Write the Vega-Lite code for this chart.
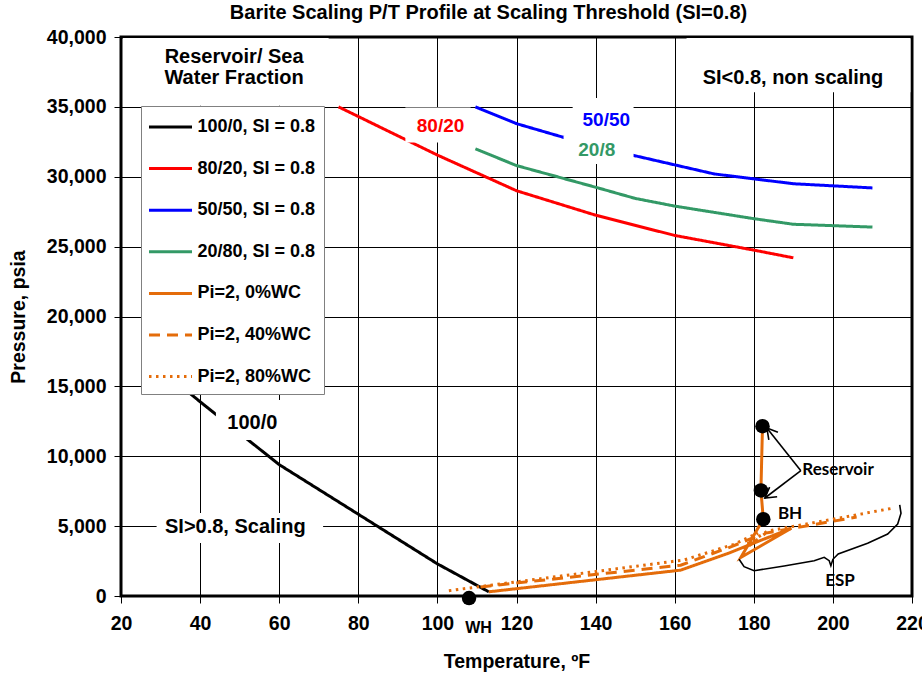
{
  "$schema": "https://vega.github.io/schema/vega-lite/v6.json",
  "width": 791,
  "height": 559,
  "autosize": "none",
  "padding": {"left": 121, "top": 37, "right": 10, "bottom": 82},
  "background": "white",
  "title": {
    "text": "Barite Scaling P/T Profile at Scaling Threshold (SI=0.8)",
    "font": "Liberation Sans",
    "fontSize": 20,
    "fontWeight": "bold",
    "color": "black",
    "anchor": "middle",
    "frame": "group",
    "baseline": "alphabetic",
    "offset": 8,
    "dx": -28,
    "dy": 20
  },
  "config": {
    "view": {"stroke": "black", "strokeWidth": 3},
    "axis": {
      "labelFont": "Liberation Sans",
      "labelFontWeight": "bold",
      "labelFontSize": 19.5,
      "labelColor": "black",
      "titleFont": "Liberation Sans",
      "titleFontWeight": "bold",
      "titleFontSize": 19.5,
      "titleColor": "black",
      "tickColor": "black",
      "tickSize": 7,
      "tickWidth": 1,
      "gridColor": "black",
      "gridWidth": 1,
      "gridOpacity": 1,
      "domain": false,
      "labelFlush": false,
      "labelOverlap": false
    },
    "legend": {
      "orient": "none",
      "legendX": 20,
      "legendY": 69,
      "direction": "vertical",
      "symbolType": "M-1.87,0H1.87",
      "symbolSize": 529,
      "symbolStrokeWidth": 3,
      "symbolOffset": 8.5,
      "labelFont": "Liberation Sans",
      "labelFontWeight": "bold",
      "labelFontSize": 18,
      "labelColor": "black",
      "labelOffset": 14,
      "labelLimit": 300,
      "padding": 8,
      "rowPadding": 19.6,
      "strokeColor": "#808080",
      "fillColor": "white"
    }
  },
  "datasets": {
    "curves": [
      {"series": "100/0, SI = 0.8", "seq": 1, "t": 37, "p": 14600},
      {"series": "100/0, SI = 0.8", "seq": 2, "t": 40, "p": 13900},
      {"series": "100/0, SI = 0.8", "seq": 3, "t": 60, "p": 9400},
      {"series": "100/0, SI = 0.8", "seq": 4, "t": 80, "p": 5850},
      {"series": "100/0, SI = 0.8", "seq": 5, "t": 100, "p": 2300},
      {"series": "100/0, SI = 0.8", "seq": 6, "t": 113, "p": 300},
      {"series": "80/20, SI = 0.8", "seq": 1, "t": 75, "p": 35000},
      {"series": "80/20, SI = 0.8", "seq": 2, "t": 100, "p": 31550},
      {"series": "80/20, SI = 0.8", "seq": 3, "t": 120, "p": 29000},
      {"series": "80/20, SI = 0.8", "seq": 4, "t": 140, "p": 27250},
      {"series": "80/20, SI = 0.8", "seq": 5, "t": 160, "p": 25800},
      {"series": "80/20, SI = 0.8", "seq": 6, "t": 180, "p": 24750},
      {"series": "80/20, SI = 0.8", "seq": 7, "t": 190, "p": 24200},
      {"series": "50/50, SI = 0.8", "seq": 1, "t": 109.6, "p": 35000},
      {"series": "50/50, SI = 0.8", "seq": 2, "t": 120, "p": 33800},
      {"series": "50/50, SI = 0.8", "seq": 3, "t": 140, "p": 32150},
      {"series": "50/50, SI = 0.8", "seq": 4, "t": 160, "p": 30850},
      {"series": "50/50, SI = 0.8", "seq": 5, "t": 170, "p": 30200},
      {"series": "50/50, SI = 0.8", "seq": 6, "t": 180, "p": 29850},
      {"series": "50/50, SI = 0.8", "seq": 7, "t": 190, "p": 29500},
      {"series": "50/50, SI = 0.8", "seq": 8, "t": 210, "p": 29200},
      {"series": "20/80, SI = 0.8", "seq": 1, "t": 109.6, "p": 32000},
      {"series": "20/80, SI = 0.8", "seq": 2, "t": 120, "p": 30800},
      {"series": "20/80, SI = 0.8", "seq": 3, "t": 140, "p": 29250},
      {"series": "20/80, SI = 0.8", "seq": 4, "t": 150, "p": 28450},
      {"series": "20/80, SI = 0.8", "seq": 5, "t": 160, "p": 27900},
      {"series": "20/80, SI = 0.8", "seq": 6, "t": 170, "p": 27450},
      {"series": "20/80, SI = 0.8", "seq": 7, "t": 180, "p": 27000},
      {"series": "20/80, SI = 0.8", "seq": 8, "t": 190, "p": 26600},
      {"series": "20/80, SI = 0.8", "seq": 9, "t": 210, "p": 26400},
      {"series": "Pi=2, 0%WC", "seq": 1, "t": 113, "p": 300},
      {"series": "Pi=2, 0%WC", "seq": 2, "t": 161.5, "p": 1850},
      {"series": "Pi=2, 0%WC", "seq": 3, "t": 173.5, "p": 3050},
      {"series": "Pi=2, 0%WC", "seq": 4, "t": 189.5, "p": 4850},
      {"series": "Pi=2, 0%WC", "seq": 5, "t": 176.7, "p": 2750},
      {"series": "Pi=2, 0%WC", "seq": 6, "t": 182.4, "p": 5500},
      {"series": "Pi=2, 0%WC", "seq": 7, "t": 181.8, "p": 7550},
      {"series": "Pi=2, 0%WC", "seq": 8, "t": 182.2, "p": 12150},
      {"series": "Pi=2, 40%WC", "seq": 1, "t": 110.9, "p": 650},
      {"series": "Pi=2, 40%WC", "seq": 2, "t": 161.5, "p": 2200},
      {"series": "Pi=2, 40%WC", "seq": 3, "t": 174.5, "p": 3550},
      {"series": "Pi=2, 40%WC", "seq": 4, "t": 180.5, "p": 4250},
      {"series": "Pi=2, 40%WC", "seq": 5, "t": 177.5, "p": 3300},
      {"series": "Pi=2, 40%WC", "seq": 6, "t": 183, "p": 4500},
      {"series": "Pi=2, 40%WC", "seq": 7, "t": 206, "p": 5650},
      {"series": "Pi=2, 80%WC", "seq": 1, "t": 102.9, "p": 380},
      {"series": "Pi=2, 80%WC", "seq": 2, "t": 162.4, "p": 2580},
      {"series": "Pi=2, 80%WC", "seq": 3, "t": 175, "p": 3700},
      {"series": "Pi=2, 80%WC", "seq": 4, "t": 181, "p": 4500},
      {"series": "Pi=2, 80%WC", "seq": 5, "t": 178.5, "p": 3750},
      {"series": "Pi=2, 80%WC", "seq": 6, "t": 183.5, "p": 4650},
      {"series": "Pi=2, 80%WC", "seq": 7, "t": 215.5, "p": 6300}
    ],
    "boxes": [
      {"t": 20.5, "t2": 72.5, "p": 35080, "p2": 39920},
      {"t": 163, "t2": 219.6, "p": 36050, "p2": 39920},
      {"t": 91.9, "t2": 108.4, "p": 32450, "p2": 34950},
      {"t": 134.2, "t2": 149.6, "p": 32920, "p2": 35640},
      {"t": 131.9, "t2": 149.6, "p": 30914, "p2": 32920},
      {"t": 44, "t2": 62.8, "p": 11160, "p2": 14030},
      {"t": 29, "t2": 71.1, "p": 3790, "p2": 5940}
    ],
    "dots": [
      {"site": "WH", "t": 108, "p": -150},
      {"site": "Reservoir", "t": 182.2, "p": 12150},
      {"site": "Reservoir", "t": 181.8, "p": 7550},
      {"site": "BH", "t": 182.4, "p": 5500}
    ],
    "strokes": [
      {"part": "arrow1", "seq": 1, "t": 191.9, "p": 8966},
      {"part": "arrow1", "seq": 2, "t": 183.3, "p": 12022},
      {"part": "head1", "seq": 1, "t": 183.8, "p": 11170},
      {"part": "head1", "seq": 2, "t": 183.3, "p": 12022},
      {"part": "head1", "seq": 3, "t": 186.1, "p": 11714},
      {"part": "arrow2", "seq": 1, "t": 191.9, "p": 8966},
      {"part": "arrow2", "seq": 2, "t": 182.8, "p": 7013},
      {"part": "head2", "seq": 1, "t": 185.9, "p": 7100},
      {"part": "head2", "seq": 2, "t": 182.8, "p": 7013},
      {"part": "head2", "seq": 3, "t": 184.0, "p": 7793},
      {"part": "brace", "seq": 1, "t": 176.28, "p": 2626},
      {"part": "brace", "seq": 2, "t": 177.54, "p": 2097},
      {"part": "brace", "seq": 3, "t": 180.08, "p": 1810},
      {"part": "brace", "seq": 4, "t": 187.67, "p": 2147},
      {"part": "brace", "seq": 5, "t": 195.27, "p": 2526},
      {"part": "brace", "seq": 6, "t": 197.8, "p": 2769},
      {"part": "brace", "seq": 7, "t": 199.06, "p": 2526},
      {"part": "brace", "seq": 8, "t": 199.49, "p": 2168},
      {"part": "brace", "seq": 9, "t": 200.0, "p": 2626},
      {"part": "brace", "seq": 10, "t": 201.34, "p": 3006},
      {"part": "brace", "seq": 11, "t": 208.78, "p": 3771},
      {"part": "brace", "seq": 12, "t": 213.85, "p": 4437},
      {"part": "brace", "seq": 13, "t": 216.38, "p": 5152},
      {"part": "brace", "seq": 14, "t": 217.22, "p": 5918},
      {"part": "brace", "seq": 15, "t": 216.89, "p": 6512}
    ],
    "notes": [
      {"kind": "region", "label": "Reservoir/ Sea", "t": 48.6, "p": 38590},
      {"kind": "region", "label": "Water Fraction", "t": 48.6, "p": 37050},
      {"kind": "region", "label": "SI<0.8, non scaling", "t": 189.9, "p": 37050},
      {"kind": "region", "label": "100/0", "t": 53.2, "p": 12380},
      {"kind": "region", "label": "SI>0.8, Scaling", "t": 48.9, "p": 4940},
      {"kind": "red", "label": "80/20", "t": 100.8, "p": 33630},
      {"kind": "blue", "label": "50/50", "t": 142.7, "p": 34060},
      {"kind": "green", "label": "20/8", "t": 140.3, "p": 31900},
      {"kind": "well", "label": "Reservoir", "t": 201.3, "p": 9000},
      {"kind": "well", "label": "ESP", "t": 201.8, "p": 1070},
      {"kind": "wellLeft", "label": "BH", "t": 186.1, "p": 5900},
      {"kind": "wh", "label": "WH", "t": 110.4, "p": -2290}
    ]
  },
  "encoding": {
    "x": {
      "field": "t",
      "type": "quantitative",
      "scale": {"domain": [20, 220], "nice": false, "zero": false},
      "axis": {
        "title": "Temperature, ºF",
        "values": [20, 40, 60, 80, 100, 120, 140, 160, 180, 200, 220],
        "labelPadding": 11,
        "titlePadding": 20
      }
    },
    "y": {
      "field": "p",
      "type": "quantitative",
      "scale": {"domain": [0, 40000], "nice": false, "zero": false},
      "axis": {
        "title": "Pressure, psia",
        "values": [0, 5000, 10000, 15000, 20000, 25000, 30000, 35000, 40000],
        "format": ",d",
        "labelPadding": 8,
        "titlePadding": 18
      }
    }
  },
  "layer": [
    {
      "data": {"name": "curves"},
      "mark": {"type": "line", "strokeWidth": 3},
      "encoding": {
        "order": {"field": "seq", "type": "quantitative"},
        "color": {
          "field": "series",
          "type": "nominal",
          "title": null,
          "scale": {
            "domain": ["100/0, SI = 0.8", "80/20, SI = 0.8", "50/50, SI = 0.8", "20/80, SI = 0.8", "Pi=2, 0%WC", "Pi=2, 40%WC", "Pi=2, 80%WC"],
            "range": ["#000000", "#FF0000", "#0000FF", "#339966", "#E46C0A", "#E46C0A", "#E46C0A"]
          }
        },
        "strokeDash": {
          "field": "series",
          "type": "nominal",
          "title": null,
          "scale": {
            "domain": ["100/0, SI = 0.8", "80/20, SI = 0.8", "50/50, SI = 0.8", "20/80, SI = 0.8", "Pi=2, 0%WC", "Pi=2, 40%WC", "Pi=2, 80%WC"],
            "range": [[1, 0], [1, 0], [1, 0], [1, 0], [1, 0], [11, 7], [2.5, 4.5]]
          }
        }
      }
    },
    {
      "data": {"name": "boxes"},
      "mark": {"type": "rect", "fill": "white", "stroke": null},
      "encoding": {
        "x2": {"field": "t2"},
        "y2": {"field": "p2"}
      }
    },
    {
      "data": {"name": "dots"},
      "mark": {"type": "point", "shape": "circle", "filled": true, "color": "black", "opacity": 1, "size": 210}
    },
    {
      "data": {"name": "strokes"},
      "mark": {"type": "line", "color": "black", "strokeWidth": 1.6},
      "encoding": {
        "detail": {"field": "part", "type": "nominal"},
        "order": {"field": "seq", "type": "quantitative"}
      }
    },
    {
      "data": {"name": "notes"},
      "transform": [{"filter": "datum.kind === 'region'"}],
      "mark": {"type": "text", "font": "Liberation Sans", "fontWeight": "bold", "fontSize": 20, "color": "black", "align": "center", "baseline": "middle"},
      "encoding": {"text": {"field": "label"}}
    },
    {
      "data": {"name": "notes"},
      "transform": [{"filter": "datum.kind === 'red'"}],
      "mark": {"type": "text", "font": "Liberation Sans", "fontWeight": "bold", "fontSize": 19, "color": "#FF0000", "align": "center", "baseline": "middle"},
      "encoding": {"text": {"field": "label"}}
    },
    {
      "data": {"name": "notes"},
      "transform": [{"filter": "datum.kind === 'blue'"}],
      "mark": {"type": "text", "font": "Liberation Sans", "fontWeight": "bold", "fontSize": 19, "color": "#0000FF", "align": "center", "baseline": "middle"},
      "encoding": {"text": {"field": "label"}}
    },
    {
      "data": {"name": "notes"},
      "transform": [{"filter": "datum.kind === 'green'"}],
      "mark": {"type": "text", "font": "Liberation Sans", "fontWeight": "bold", "fontSize": 19, "color": "#339966", "align": "center", "baseline": "middle"},
      "encoding": {"text": {"field": "label"}}
    },
    {
      "data": {"name": "notes"},
      "transform": [{"filter": "datum.kind === 'well'"}],
      "mark": {"type": "text", "font": "Lato", "fontWeight": "bold", "fontSize": 17, "color": "black", "align": "center", "baseline": "middle"},
      "encoding": {"text": {"field": "label"}}
    },
    {
      "data": {"name": "notes"},
      "transform": [{"filter": "datum.kind === 'wellLeft'"}],
      "mark": {"type": "text", "font": "Lato", "fontWeight": "bold", "fontSize": 17, "color": "black", "align": "left", "baseline": "middle"},
      "encoding": {"text": {"field": "label"}}
    },
    {
      "data": {"name": "notes"},
      "transform": [{"filter": "datum.kind === 'wh'"}],
      "mark": {"type": "text", "font": "Liberation Sans", "fontWeight": "bold", "fontSize": 16, "color": "black", "align": "center", "baseline": "middle"},
      "encoding": {"text": {"field": "label"}}
    }
  ]
}
